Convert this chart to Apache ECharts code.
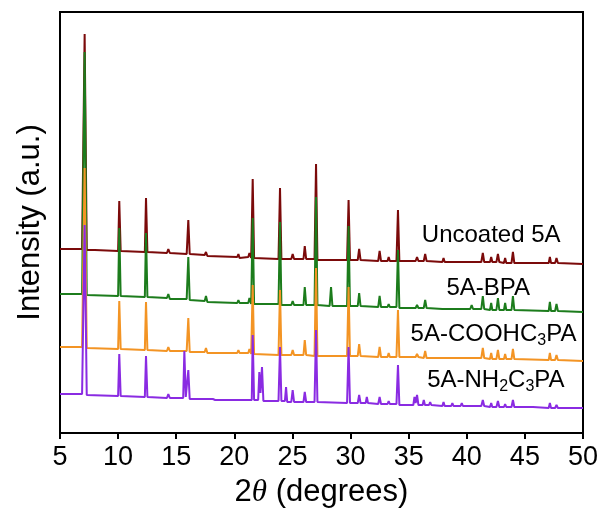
<!DOCTYPE html>
<html>
<head>
<meta charset="utf-8">
<script src="https://cdn.jsdelivr.net/npm/echarts@6/dist/echarts.min.js"></script>
<style>
html,body{margin:0;padding:0;background:#fff;}
#c{width:598px;height:510px;}
</style>
</head>
<body>
<div id="c"></div>
<script>
// x: 2θ (degrees), y: intensity (a.u., includes vertical offset of each pattern)
var xTicks = [5, 10, 15, 20, 25, 30, 35, 40, 45, 50];
var seriesNames = ['Uncoated 5A', '5A-BPA', '5A-COOHC3PA', '5A-NH2C3PA'];

var uncoated = [[5,184],[6.9,184],[7.12,399],[7.3,183],[8,183],[10.0,182],[10.1,232],[10.22,182],[12.3,181],[12.4,235],[12.52,181],[14.2,180],[14.32,184],[14.45,180],[15.9,179],[16.04,213],[16.16,179],[17.45,178],[17.56,181],[17.68,177],[20.25,176],[20.35,179],[20.45,175],[21.2,176],[21.3,180],[21.45,175],[21.5,175],[21.58,254],[21.7,175],[23.8,174],[23.93,245],[24.05,174],[24.9,174],[25.02,179],[25.14,174],[25.95,174],[26.06,187],[26.18,174],[26.9,174],[27.03,269],[27.15,173],[29.7,173],[29.83,233],[29.95,173],[30.62,173],[30.74,184],[30.86,173],[32.38,172],[32.5,182],[32.62,172],[33.18,172],[33.28,176],[33.38,172],[33.95,172],[34.08,223],[34.2,172],[35.6,172],[35.72,176],[35.84,172],[36.3,172],[36.42,179],[36.54,172],[37.9,171],[38.0,175],[38.1,171],[41.25,171],[41.38,180],[41.5,171],[42.0,171],[42.1,176],[42.2,171],[42.55,171],[42.68,179],[42.8,171],[43.2,170],[43.3,175],[43.4,170],[43.85,170],[43.97,181],[44.09,170],[45.5,170],[45.6,172],[45.7,170],[47.05,170],[47.15,176],[47.25,170],[47.6,170],[47.72,175],[47.84,170],[50,169]];

var bpa = [[5,139],[6.9,139],[7.12,381],[7.3,138],[10.0,137],[10.1,205],[10.22,137],[12.3,136],[12.4,200],[12.52,136],[14.2,135],[14.32,139],[14.45,134],[15.9,134],[16.04,176],[16.16,133],[17.45,132],[17.56,137],[17.68,131],[20.25,130],[20.35,133],[20.45,130],[21.2,130],[21.3,135],[21.45,129],[21.58,215],[21.7,129],[23.8,129],[23.93,211],[24.05,128],[24.9,128],[25.02,132],[25.14,128],[25.95,128],[26.06,146],[26.18,128],[26.9,128],[27.03,236],[27.15,128],[28.2,127],[28.32,146],[28.44,127],[29.7,127],[29.83,207],[29.95,127],[30.62,127],[30.74,140],[30.86,127],[32.38,126],[32.5,137],[32.62,126],[33.18,126],[33.28,129],[33.38,126],[33.95,126],[34.08,183],[34.2,125],[35.6,125],[35.72,128],[35.84,125],[36.3,125],[36.42,133],[36.54,125],[37.9,124],[38.0,126],[38.1,124],[40.3,124],[40.42,128],[40.54,124],[41.25,124],[41.38,137],[41.5,124],[42.0,123],[42.1,130],[42.2,123],[42.55,123],[42.68,135],[42.8,123],[43.2,123],[43.3,130],[43.4,123],[43.85,123],[43.97,137],[44.09,123],[47.05,122],[47.15,131],[47.25,122],[47.6,122],[47.72,129],[47.84,122],[50,121]];

var cooh = [[5,86],[6.9,86],[7.12,265],[7.3,85],[10.0,84],[10.1,132],[10.22,84],[12.3,83],[12.4,131],[12.52,83],[14.2,82],[14.32,86],[14.45,82],[15.9,82],[16.04,115],[16.16,81],[17.45,81],[17.56,85],[17.68,80],[20.25,80],[20.35,83],[20.45,80],[21.2,80],[21.3,84],[21.45,79],[21.58,148],[21.7,79],[23.8,78],[23.93,143],[24.05,78],[24.9,78],[25.02,83],[25.14,78],[25.95,78],[26.06,93],[26.18,78],[26.9,77],[27.03,165],[27.15,77],[29.7,77],[29.83,146],[29.95,77],[30.62,77],[30.74,89],[30.86,77],[32.38,76],[32.5,86],[32.62,76],[33.18,76],[33.28,80],[33.38,76],[33.95,76],[34.08,123],[34.2,76],[35.6,76],[35.72,79],[35.84,76],[36.3,75],[36.42,82],[36.54,75],[37.9,75],[38.0,77],[38.1,75],[41.25,75],[41.38,85],[41.5,75],[42.0,74],[42.1,80],[42.2,74],[42.55,74],[42.68,83],[42.8,74],[43.2,74],[43.3,79],[43.4,74],[43.85,74],[43.97,84],[44.09,74],[47.05,73],[47.15,80],[47.25,73],[47.6,73],[47.72,78],[47.84,73],[50,72]];

var nh2 = [[5,39],[6.9,39],[7.12,208],[7.3,38],[10.0,37],[10.1,79],[10.22,37],[12.3,36],[12.4,77],[12.52,36],[14.2,35],[14.32,39],[14.45,35],[15.6,35],[15.7,82],[15.82,36],[15.95,36],[16.04,63],[16.16,34],[17.45,34],[17.56,36],[17.68,34],[18.15,34],[18.25,36],[18.35,33],[20.25,33],[20.35,35],[20.45,33],[21.5,33],[21.58,98],[21.7,33],[22.05,33],[22.15,61],[22.25,40],[22.38,66],[22.5,32],[23.8,32],[23.93,86],[24.05,32],[24.35,32],[24.45,46],[24.55,31],[24.9,31],[25.02,43],[25.14,31],[25.95,31],[26.06,41],[26.18,31],[26.9,31],[27.03,103],[27.15,31],[29.7,30],[29.83,86],[29.95,30],[30.62,30],[30.74,38],[30.86,30],[31.3,30],[31.4,36],[31.5,30],[32.38,29],[32.5,36],[32.62,29],[33.18,29],[33.28,32],[33.38,29],[33.95,29],[34.08,68],[34.2,28],[35.4,28],[35.5,36],[35.6,30],[35.72,38],[35.84,28],[36.2,28],[36.3,33],[36.4,28],[36.75,28],[36.85,31],[36.95,28],[37.9,27],[38.0,31],[38.1,27],[38.66,27],[38.76,30],[38.86,27],[39.47,27],[39.57,30],[39.67,27],[41.25,27],[41.38,33],[41.5,27],[42.0,26],[42.1,30],[42.2,26],[42.55,26],[42.68,32],[42.8,26],[43.2,26],[43.3,29],[43.4,26],[43.85,26],[43.97,33],[44.09,26],[45.5,26],[45.6,28],[45.7,26],[47.05,25],[47.15,30],[47.25,25],[47.6,25],[47.72,28],[47.84,25],[50,25]];

// label anchor positions (2θ, intensity)
var labelAnchors = [[42.1, 198], [41.85, 145], [42.3, 99], [42.5, 53]];
var labelTexts = ['Uncoated 5A', '5A-BPA', '5A-COOHC{s|3}PA', '5A-NH{s|2}C{s|3}PA'];
var colors = ['#7b0a0a', '#1c7c1c', '#f39424', '#8a2be2'];
var allData = [uncoated, bpa, cooh, nh2];

var chart = echarts.init(document.getElementById('c'), null, {renderer: 'canvas'});
var FONT = 'Liberation Sans, Arial, sans-serif';

var series = allData.map(function (d, i) {
  return {
    name: seriesNames[i],
    type: 'line',
    data: d,
    symbol: 'none',
    smooth: false,
    lineStyle: {color: colors[i], width: 2},
    itemStyle: {color: colors[i]},
    animation: false,
    z: 2 + i,
    markPoint: {
      silent: true,
      animation: false,
      symbol: 'circle',
      symbolSize: 0,
      data: [{
        coord: labelAnchors[i],
        label: {
          show: true,
          position: 'inside',
          formatter: labelTexts[i],
          color: '#000',
          fontSize: 24,
          fontFamily: FONT,
          rich: {
            s: {fontSize: 16, fontFamily: FONT, color: '#000', padding: [14, 0, 0, 0]}
          }
        }
      }]
    }
  };
});

chart.setOption({
  animation: false,
  backgroundColor: '#fff',
  grid: {left: 60, top: 12, width: 523, height: 421, outerBoundsMode: 'none', containLabel: false,
    show: true, borderColor: '#000', borderWidth: 2, backgroundColor: 'transparent'},
  xAxis: {
    type: 'value',
    min: 5, max: 50, interval: 5,
    name: '2{i|θ} (degrees)',
    nameLocation: 'middle',
    nameGap: 44,
    nameTextStyle: {fontSize: 31, color: '#000', fontFamily: FONT,
      rich: {i: {fontSize: 31, fontStyle: 'italic', fontFamily: 'Liberation Serif, Times New Roman, serif', color: '#000'}}},
    axisLine: {show: true, lineStyle: {color: '#000', width: 2}},
    axisTick: {show: true, inside: false, length: 6, lineStyle: {color: '#000', width: 2}},
    axisLabel: {fontSize: 27, color: '#000', fontFamily: FONT, margin: 11},
    splitLine: {show: false}
  },
  yAxis: {
    type: 'value',
    min: 0, max: 421,
    name: 'Intensity (a.u.)',
    nameLocation: 'middle',
    nameRotate: 90,
    nameGap: 14,
    nameTextStyle: {fontSize: 31, color: '#000', fontFamily: FONT},
    axisLine: {show: true, lineStyle: {color: '#000', width: 2}},
    axisTick: {show: false},
    axisLabel: {show: false},
    splitLine: {show: false}
  },
  series: series
});
</script>
</body>
</html>
